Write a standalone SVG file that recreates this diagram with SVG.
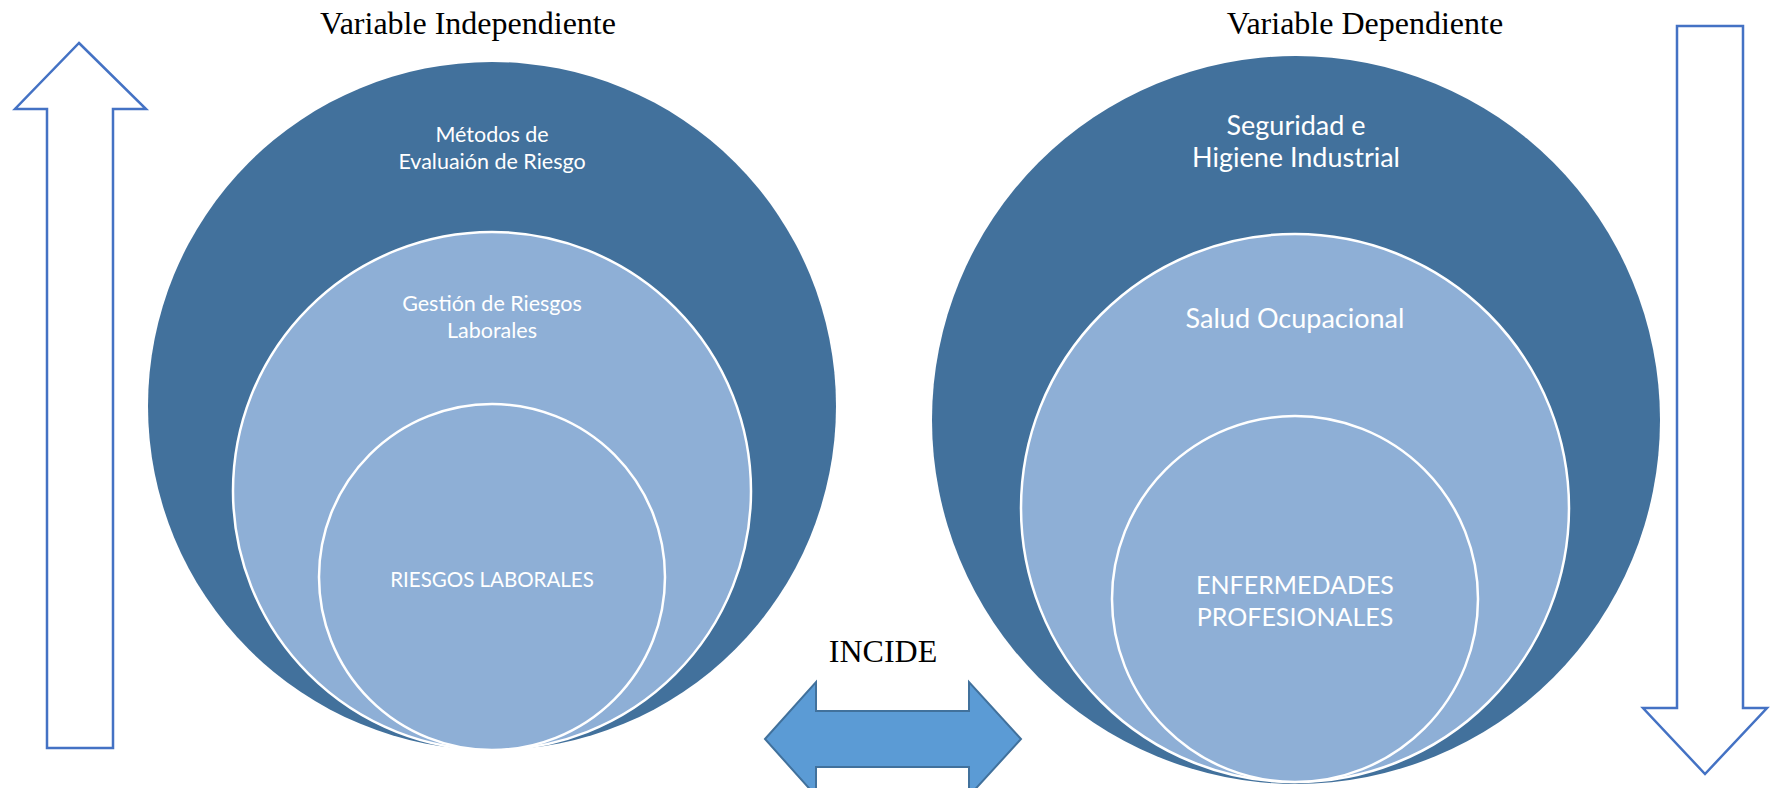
<svg xmlns="http://www.w3.org/2000/svg" width="1771" height="788" viewBox="0 0 1771 788">
<style>
.dark{fill:#42719C;}
.light{fill:#8EAFD6;stroke:#FFFFFF;stroke-width:2.5;}
.lbl{font-family:Lato,"Liberation Sans",sans-serif;fill:#FFFFFF;text-anchor:middle;}
.title{font-family:"Liberation Serif",serif;fill:#000000;text-anchor:middle;font-size:32px;}
.blk{fill:#FFFFFF;stroke:#4472C4;stroke-width:2.5;}
.dbl{fill:#5B9BD5;stroke:#41719C;stroke-width:2;}
</style>
<rect width="1771" height="788" fill="#FFFFFF"/>
<g id="titles">
<text class="title" x="468" y="34">Variable Independiente</text>
<text class="title" x="1365" y="34">Variable Dependiente</text>
</g>
<g id="independiente">
<circle class="dark" cx="492" cy="406" r="344"/>
<text class="lbl" x="492" y="142" font-size="21.5">Métodos de</text>
<text class="lbl" x="492" y="169" font-size="21.5">Evaluaión de Riesgo</text>
</g>
<g id="gestion">
<circle class="light" cx="492" cy="491" r="259"/>
<text class="lbl" x="492" y="311" font-size="21.5">Gestión de Riesgos</text>
<text class="lbl" x="492" y="338" font-size="21.5">Laborales</text>
</g>
<g id="riesgos">
<circle class="light" cx="492" cy="577" r="173"/>
<text class="lbl" x="492" y="587" font-size="20.5">RIESGOS LABORALES</text>
</g>
<g id="dependiente">
<circle class="dark" cx="1296" cy="420" r="364"/>
<text class="lbl" x="1296" y="135" font-size="27">Seguridad e</text>
<text class="lbl" x="1296" y="167" font-size="27">Higiene Industrial</text>
</g>
<g id="salud">
<circle class="light" cx="1295" cy="508" r="274"/>
<text class="lbl" x="1295" y="328" font-size="27">Salud Ocupacional</text>
</g>
<g id="enfermedades">
<circle class="light" cx="1295" cy="599" r="183"/>
<text class="lbl" x="1295" y="594" font-size="25">ENFERMEDADES</text>
<text class="lbl" x="1295" y="626" font-size="25">PROFESIONALES</text>
</g>
<g id="connectors">
<polygon class="blk" points="79,43 146,109 113,109 113,748 47,748 47,109 15,109"/>
<polygon class="blk" points="1677,26 1743,26 1743,708 1767,708 1705,774 1643,708 1677,708"/>
<polygon class="dbl" points="765,739 816,682 816,711 969,711 969,682 1021,739 969,796 969,767 816,767 816,796"/>
<text class="title" x="883" y="662" font-size="31">INCIDE</text>
</g>
</svg>
